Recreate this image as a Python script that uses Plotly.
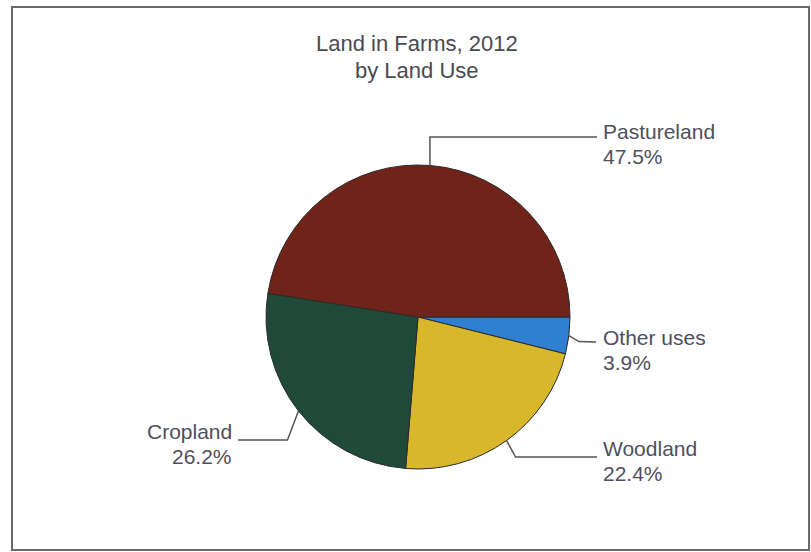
import math
import plotly.graph_objects as go

# Land in farms by use, 2012 (percent of total)
categories = ["Other uses", "Woodland", "Cropland", "Pastureland"]
shares = [3.9, 22.4, 26.2, 47.5]
colors = ["#2f7fd3", "#d8b82a", "#1f4a39", "#6f2319"]

W, H = 811, 552
CX, CY, R = 418, 317, 152          # pie centre and radius in pixels
ROTATION = 90                      # first slice starts at 3 o'clock

TEXT_FONT = "Liberation Sans, Arial, sans-serif"
TEXT_COLOR = "#4f4f60"
LINE_COLOR = "#555555"


def px(x):
    return x / W


def py(y):
    return 1 - y / H


fig = go.Figure(
    go.Pie(
        labels=categories,
        values=shares,
        sort=False,
        direction="clockwise",
        rotation=ROTATION,
        marker=dict(colors=colors, line=dict(color="#2a2a2a", width=1)),
        textinfo="none",
        hoverinfo="label+percent",
        showlegend=False,
        domain=dict(x=[px(CX - R), px(CX + R)], y=[py(CY + R), py(CY - R)]),
    )
)

# Mid-angle anchor point on the rim of every slice (screen pixels)
total = sum(shares)
anchors = {}
start = ROTATION
for name, v in zip(categories, shares):
    span = 360 * v / total
    mid = math.radians(start + span / 2)
    anchors[name] = (CX + R * math.sin(mid), CY - R * math.cos(mid))
    start += span

# Leader-line elbows and label placement: (elbow points, text x, anchor side, mid y of the two lines)
label_layout = {
    "Pastureland": (lambda a: [(a[0], 137), (597, 137)], 602, "left", 143.5),
    "Other uses": (lambda a: [(a[0] + 10, a[1] + 6), (596, 342)], 602, "left", 349.5),
    "Woodland": (lambda a: [(a[0] + 9, 457), (597, 457)], 602, "left", 461),
    "Cropland": (lambda a: [(a[0] - 11, 440), (238, 440)], 233, "right", 444),
}


def two_lines(first, second, x, xanchor, y_mid, size, color):
    """Two stacked single-line annotations that meet at y_mid."""
    out = []
    for text, yanchor in ((first, "bottom"), (second, "top")):
        out.append(dict(
            text=text, x=px(x), y=py(y_mid), xref="paper", yref="paper",
            xanchor=xanchor, yanchor=yanchor, showarrow=False, borderpad=0,
            font=dict(family=TEXT_FONT, size=size, color=color),
        ))
    return out


shapes = []
annotations = []
for name, v in zip(categories, shares):
    elbow, tx, side, ymid = label_layout[name]
    pts = [anchors[name]] + elbow(anchors[name])
    path = "M " + " L ".join(f"{px(x):.5f},{py(y):.5f}" for x, y in pts)
    shapes.append(dict(type="path", xref="paper", yref="paper", path=path,
                       line=dict(color=LINE_COLOR, width=1.5)))
    annotations += two_lines(name, f"{v:.1f}%", tx, side, ymid, 21, TEXT_COLOR)

# Two-line chart title
annotations += two_lines("Land in Farms, 2012", "by Land Use", 417, "center", 57.5, 22, "#4a4a52")

# Outer frame
shapes.append(dict(type="rect", xref="paper", yref="paper",
                   x0=px(12), x1=px(809), y0=py(550), y1=py(7),
                   line=dict(color="#6a6a6a", width=2)))

fig.update_layout(
    width=W, height=H,
    margin=dict(l=0, r=0, t=0, b=0),
    paper_bgcolor="white", plot_bgcolor="white",
    shapes=shapes, annotations=annotations,
)

fig.write_html("out.html")
